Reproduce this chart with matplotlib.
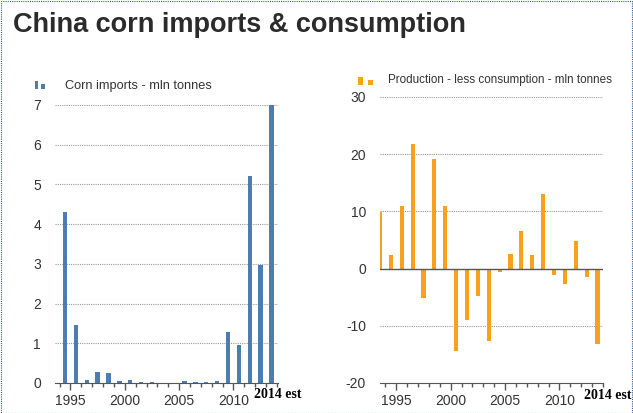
import matplotlib.pyplot as plt
from matplotlib.patches import Rectangle
from matplotlib.ticker import FixedLocator

# corn imports, mln tonnes (1995 - 2014 est)
import_years = list(range(1995, 2015))
imports = [4.3, 1.47, 0.08, 0.28, 0.25, 0.05, 0.08, 0.02, 0.02, 0.01,
           0.01, 0.05, 0.03, 0.02, 0.05, 1.28, 0.95, 5.22, 2.98, 7.0]

# production less consumption, mln tonnes (1994 - 2014 est)
balance_years = list(range(1994, 2015))
balance = [9.9, 2.3, 10.9, 21.7, -5.1, 19.1, 10.9, -14.4, -9.0, -4.8, -12.7,
           -0.6, 2.6, 6.6, 2.3, 13.0, -1.1, -2.7, 4.8, -1.5, -13.1]

year_labels = ['1995', '2000', '2005', '2010']
left_yticks = [0, 1, 2, 3, 4, 5, 6, 7]
right_yticks = [-20, -10, 0, 10, 20, 30]

blue = '#4d7db0'
orange = '#f9a11b'
txt = '#333333'

plt.rcParams['font.family'] = ['Liberation Sans', 'DejaVu Sans']

W, H = 633, 413
fig = plt.figure(figsize=(W / 100, H / 100), dpi=100)


def px(x0, y0, x1, y1):
    # pixel box (top-left origin) -> figure fraction rect
    return [x0 / W, 1 - y1 / H, (x1 - x0) / W, (y1 - y0) / H]


def style_axis(ax, yticks, lo):
    for s in ['left', 'right', 'top']:
        ax.spines[s].set_visible(False)
    ax.spines['bottom'].set_color('#555555')
    ax.spines['bottom'].set_position(('data', lo))
    ax.set_yticks(yticks)
    ax.set_yticklabels([str(v) for v in yticks])
    ax.tick_params(axis='y', length=0, pad=10, labelsize=10, labelcolor=txt)
    for v in yticks:
        if v not in (lo, 0):
            ax.axhline(v, color='#999999', lw=0.8, ls=(0, (1, 1)), zorder=0)
    first = min(balance_years) - 0.5
    ax.xaxis.set_major_locator(FixedLocator([int(l) + 0.5 for l in year_labels]))
    ax.xaxis.set_minor_locator(FixedLocator([first + i for i in range(22)]))
    ax.set_xticklabels(year_labels)
    ax.tick_params(axis='x', which='major', length=5, width=1, color='#555555',
                   labelsize=10, labelcolor=txt, pad=3)
    ax.tick_params(axis='x', which='minor', length=3, width=1, color='#555555')


# left chart
ax1 = fig.add_axes(px(55, 105, 278, 383))
ax1.bar(import_years, imports, width=0.4, color=blue, zorder=2)
ax1.set_xlim(1994.08, 2014.6)
ax1.set_ylim(0, 7)
style_axis(ax1, left_yticks, 0)
ax1.text(2014.6, -0.13, '2014 est', ha='center', va='top', fontsize=10,
         fontweight='bold', family='Liberation Serif', color='black',
         transform=ax1.transData, clip_on=False)

# right chart
ax2 = fig.add_axes(px(380, 97, 603, 383))
ax2.bar(balance_years, balance, width=0.38, color=orange, zorder=2)
ax2.axhline(0, color='#555555', lw=1, zorder=3)
ax2.set_xlim(1994.0, 2014.5)
ax2.set_ylim(-20, 30)
style_axis(ax2, right_yticks, -20)
ax2.text(2014.9, -21.0, '2014 est', ha='center', va='top', fontsize=10,
         fontweight='bold', family='Liberation Serif', color='black',
         transform=ax2.transData, clip_on=False)

# legends drawn as small squares plus text
for (x0, y0, x1, y1), c in [((35, 81, 38, 89), blue), ((41, 84, 45, 89), blue),
                            ((358, 77, 363, 85), orange), ((368, 80, 373, 85), orange)]:
    fig.add_artist(Rectangle((x0 / W, 1 - y1 / H), (x1 - x0) / W, (y1 - y0) / H,
                             transform=fig.transFigure, color=c, lw=0))
fig.text(65 / W, 1 - 86 / H, 'Corn imports - mln tonnes', fontsize=9.2,
         color=txt, va='center', ha='left')
fig.text(388 / W, 1 - 80 / H, 'Production - less consumption - mln tonnes',
         fontsize=8.4, color=txt, va='center', ha='left')

# title
fig.text(13 / W, 1 - 25 / H, 'China corn imports & consumption', fontsize=19.5,
         fontweight='bold', color='#2b2b2b', va='center', ha='left',
         family=['Liberation Sans Narrow', 'Liberation Sans', 'DejaVu Sans'])

# dotted frame
fig.add_artist(Rectangle((0.001, 0.001), 0.998, 0.997, transform=fig.transFigure,
                         fill=False, edgecolor='#2a5a9a', lw=0.8, ls=(0, (1, 1))))

fig.savefig('out.png', dpi=100)
